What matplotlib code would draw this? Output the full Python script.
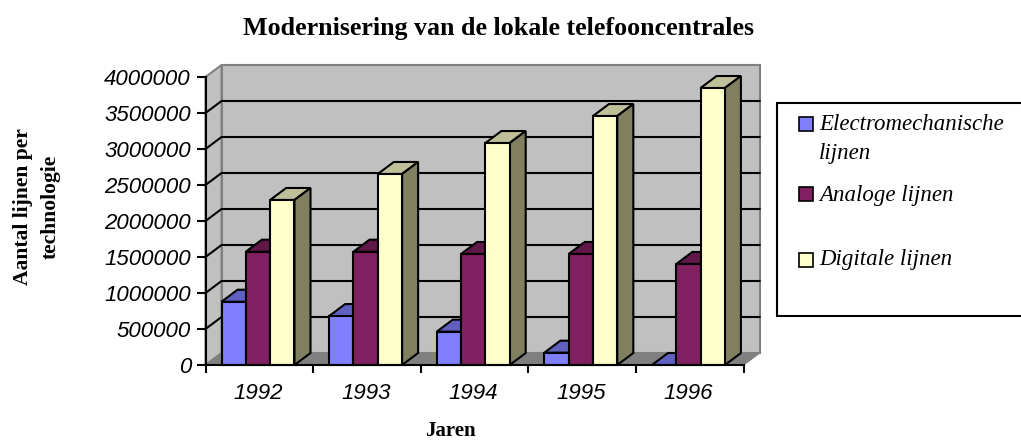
#!/usr/bin/env python3
import numpy as np
import matplotlib
matplotlib.use("Agg")
from matplotlib import pyplot as plt
from matplotlib.patches import Rectangle

years = ['1992', '1993', '1994', '1995', '1996']
electro = [879000, 680000, 463000, 171000, 0]
analoog = [1574000, 1574000, 1542000, 1542000, 1403000]
digitaal = [2292000, 2653000, 3083000, 3458000, 3847000]
yticks = [0, 500000, 1000000, 1500000, 2000000, 2500000, 3000000, 3500000, 4000000]
names = ['Electromechanische\nlijnen', 'Analoge lijnen', 'Digitale lijnen']

W, H = 1021, 441
DX = 0.149      # depth of the fake 3d, in categories
DY = 166667     # same, in axis units
BW = 0.226
SANS = 'Liberation Sans'
SERIF = 'Liberation Serif'

# front, top, side colours per series
colors = [('#8080FF', '#6060C0', '#6060C0'),
          ('#802060', '#601848', '#601848'),
          ('#FFFFCC', '#BFBF99', '#808060')]


def figbox(x0, y0, x1, y1):
    return [x0 / W, 1 - y1 / H, (x1 - x0) / W, (y1 - y0) / H]


fig = plt.figure(figsize=(W / 100, H / 100), dpi=100)
ax = fig.add_axes(figbox(205.5, 77, 743.5, 365))
ax.set_xlim(0, 5)
ax.set_ylim(0, 4000000)

# walls and floor
ax.fill([0, DX, DX, 0], [0, DY, 4000000 + DY, 4000000], fc='#C0C0C0', ec='#808080', lw=1.5, clip_on=False, zorder=1)
ax.fill([DX, 5 + DX, 5 + DX, DX], [DY, DY, 4000000 + DY, 4000000 + DY], fc='#C0C0C0', ec='#808080', lw=1.5, clip_on=False, zorder=1)
ax.fill([0, 5, 5 + DX, DX], [0, 0, DY, DY], fc='#808080', ec='#808080', lw=1, clip_on=False, zorder=1)

for v in yticks[1:-1]:
    ax.plot([0, DX, 5 + DX], [v, v + DY, v + DY], color='black', lw=1.5, clip_on=False, zorder=2)

# bars, painted left to right so the next one hides the side of the last
z = 3
for i in range(len(years)):
    for j, vals in enumerate([electro, analoog, digitaal]):
        x0 = i + DX + j * BW
        x1 = x0 + BW
        v = vals[i]
        front, top, side = colors[j]
        ax.fill([x0, x1, x1 + DX, x0 + DX], [v, v, v + DY, v + DY], fc=top, ec='black', lw=1.5, clip_on=False, zorder=z)
        ax.fill([x1, x1 + DX, x1 + DX, x1], [0, DY, v + DY, v], fc=side, ec='black', lw=1.5, clip_on=False, zorder=z)
        if v > 0:
            ax.bar(x0, v, width=BW, align='edge', color=front, edgecolor='black', lw=1.5, clip_on=False, zorder=z)
        z += 1

for s in ['top', 'right']:
    ax.spines[s].set_visible(False)
for s in ['left', 'bottom']:
    ax.spines[s].set_linewidth(1.5)
    ax.spines[s].set_zorder(50)

ax.set_yticks(yticks)
ax.set_yticklabels([str(v) for v in yticks], family=SANS, style='italic', fontsize=16)
ax.tick_params(axis='y', length=6.5, width=1.5, pad=4)
ax.set_xticks(np.arange(6))
ax.set_xticklabels([])
ax.tick_params(axis='x', which='major', length=6, width=1.5)
ax.set_xticks(np.arange(5) + 0.49, minor=True)
ax.set_xticklabels(years, minor=True, family=SANS, style='italic', fontsize=16)
ax.tick_params(axis='x', which='minor', length=0, pad=13)

fig.text(498 / W, 1 - 28 / H, 'Modernisering van de lokale telefooncentrales', family=SERIF,
         weight='bold', fontsize=18.7, ha='center', va='center')
fig.text(37 / W, 1 - 207 / H, 'Aantal lijnen per\ntechnologie', family=SERIF, weight='bold',
         fontsize=15.5, rotation=90, ha='center', va='center', linespacing=1.55, multialignment='center')
fig.text(450 / W, 1 - 431 / H, 'Jaren', family=SERIF, weight='bold', fontsize=15, ha='center', va='center')

# legend box runs off the right edge in the original
fig.add_artist(Rectangle((776.5 / W, 1 - 316 / H), 260 / W, 213 / H, transform=fig.transFigure,
                         fc='white', ec='black', lw=1.5))
swatch_y = [117, 187, 253]
text_y = [139.5, 195, 260]
for j, name in enumerate(names):
    fig.add_artist(Rectangle((798.5 / W, 1 - (swatch_y[j] + 14) / H), 14 / W, 14 / H, transform=fig.transFigure,
                             fc=colors[j][0], ec='black', lw=1.2))
    fig.text(819 / W, 1 - text_y[j] / H, name, family=SERIF, style='italic', fontsize=16.5,
             ha='left', va='center', linespacing=1.5)

fig.savefig('out.png', dpi=100)
